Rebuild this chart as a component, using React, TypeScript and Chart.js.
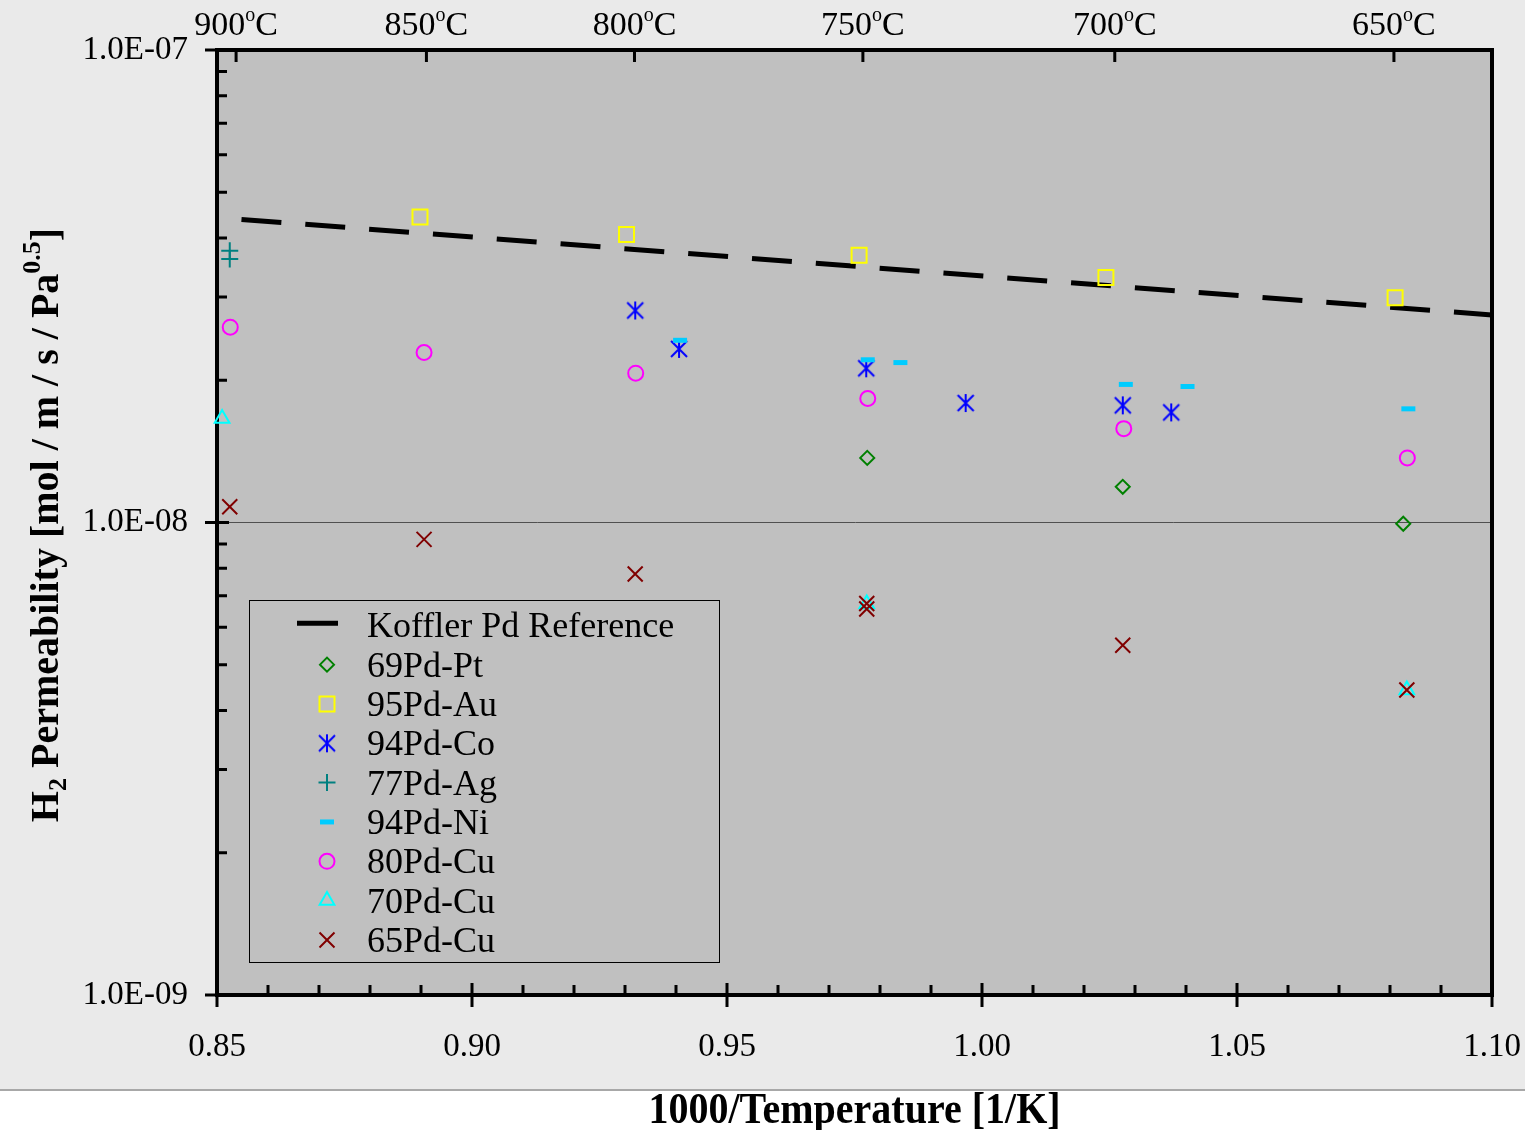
import React, { useEffect, useRef } from 'react';
import { Chart, registerables } from 'chart.js';
import { drawPoint } from 'chart.js/helpers';

Chart.register(...registerables);

const SERIF = '"Liberation Serif", "Times New Roman", serif';

// ---- axis ticks ----
const xTickValues = [0.85, 0.9, 0.95, 1.0, 1.05, 1.1];
const xTickLabels = ['0.85', '0.90', '0.95', '1.00', '1.05', '1.10'];
const yTickValues = [1e-9, 1e-8, 1e-7];
const yTickLabels = ['1.0E-09', '1.0E-08', '1.0E-07'];
const topTempsC = [900, 850, 800, 750, 700, 650];
const topTempLabels = ['900', '850', '800', '750', '700', '650'];
const topAxisMin = 0.8486;
const topAxisMax = 1.1028;

// ---- series (x = 1000/T [1/K], y = permeability) ----
const kofflerX = [0.8548, 1.1];
const kofflerY = [4.38e-8, 2.75e-8];

const ptX = [0.9775, 1.0276, 1.0826];
const ptY = [1.37e-8, 1.19e-8, 9.94e-9];

const auX = [0.8898, 0.9303, 0.9759, 1.0243, 1.081];
const auY = [4.43e-8, 4.07e-8, 3.68e-8, 3.3e-8, 2.99e-8];

const coX = [0.932, 0.9406, 0.9773, 0.9968, 1.0276, 1.0371];
const coY = [2.81e-8, 2.33e-8, 2.12e-8, 1.79e-8, 1.77e-8, 1.71e-8];

const agX = [0.8525, 0.8525];
const agY = [3.76e-8, 3.61e-8];

const niX = [0.9408, 0.9776, 0.984, 1.0282, 1.0403, 1.0836];
const niY = [2.43e-8, 2.21e-8, 2.18e-8, 1.96e-8, 1.94e-8, 1.74e-8];

const cu80X = [0.8526, 0.8906, 0.9321, 0.9776, 1.0278, 1.0834];
const cu80Y = [2.59e-8, 2.29e-8, 2.07e-8, 1.83e-8, 1.58e-8, 1.37e-8];

const cu70X = [0.851, 0.9774, 1.0833];
const cu70Y = [1.66e-8, 6.72e-9, 4.42e-9];

const cu65X = [0.8525, 0.8906, 0.932, 0.9774, 0.9774, 1.0276, 1.0833];
const cu65Y = [1.08e-8, 9.21e-9, 7.78e-9, 6.74e-9, 6.56e-9, 5.5e-9, 4.42e-9];

const seriesLabels = [
  'Koffler Pd Reference',
  '69Pd-Pt',
  '95Pd-Au',
  '94Pd-Co',
  '77Pd-Ag',
  '94Pd-Ni',
  '80Pd-Cu',
  '70Pd-Cu',
  '65Pd-Cu',
];

const toPts = (xs: number[], ys: number[]) => xs.map((x, i) => ({ x, y: ys[i] }));

function makeAsterisk(color: string) {
  const c = document.createElement('canvas');
  c.width = 20;
  c.height = 20;
  const g = c.getContext('2d')!;
  g.strokeStyle = color;
  g.lineWidth = 2;
  g.beginPath();
  g.moveTo(10, 1);
  g.lineTo(10, 19);
  g.moveTo(2, 2);
  g.lineTo(18, 18);
  g.moveTo(18, 2);
  g.lineTo(2, 18);
  g.stroke();
  return c;
}

const decoPlugin = {
  id: 'deco',
  beforeDraw(chart: any) {
    const { ctx, width, height, chartArea: a } = chart;
    ctx.save();
    ctx.fillStyle = '#ffffff';
    ctx.fillRect(0, 0, width, height);
    ctx.fillStyle = '#eaeaea';
    ctx.fillRect(0, 0, width, 1090);
    ctx.fillStyle = '#a8a8a8';
    ctx.fillRect(0, 1089, width, 2);
    ctx.fillStyle = '#c0c0c0';
    ctx.fillRect(a.left, a.top, a.right - a.left, a.bottom - a.top);
    ctx.restore();
  },
  afterDraw(chart: any) {
    const { ctx, chartArea: a } = chart;
    const xs = chart.scales.x;
    const ys = chart.scales.y;
    const xt = chart.scales.x2;
    ctx.save();
    // right frame line
    ctx.strokeStyle = '#000';
    ctx.lineWidth = 4;
    ctx.beginPath();
    ctx.moveTo(a.right, a.top - 2);
    ctx.lineTo(a.right, a.bottom + 2);
    ctx.stroke();

    // tick marks
    ctx.lineWidth = 3;
    ctx.beginPath();
    xTickValues.forEach((v) => {
      const px = xs.getPixelForValue(v);
      ctx.moveTo(px, a.bottom - 12);
      ctx.lineTo(px, a.bottom + 12);
    });
    for (let k = 86; k < 110; k++) {
      if (k % 5 === 0) continue;
      const px = xs.getPixelForValue(k / 100);
      ctx.moveTo(px, a.bottom - 10);
      ctx.lineTo(px, a.bottom);
    }
    yTickValues.forEach((v) => {
      const py = ys.getPixelForValue(v);
      ctx.moveTo(a.left - 12, py);
      ctx.lineTo(a.left + 12, py);
    });
    [1e-9, 1e-8].forEach((dec) => {
      for (let m = 2; m <= 9; m++) {
        const py = ys.getPixelForValue(dec * m);
        ctx.moveTo(a.left, py);
        ctx.lineTo(a.left + 10, py);
      }
    });
    topTempsC.forEach((t) => {
      const px = xt.getPixelForValue(1000 / (t + 273.15));
      ctx.moveTo(px, a.top);
      ctx.lineTo(px, a.top + 12);
    });
    ctx.stroke();

    // top temperature labels
    ctx.fillStyle = '#000';
    ctx.textBaseline = 'alphabetic';
    ctx.textAlign = 'left';
    const big = `34px ${SERIF}`;
    const small = `20px ${SERIF}`;
    topTempsC.forEach((t, i) => {
      const px = xt.getPixelForValue(1000 / (t + 273.15));
      ctx.font = big;
      const w1 = ctx.measureText(topTempLabels[i]).width;
      const w3 = ctx.measureText('C').width;
      ctx.font = small;
      const w2 = ctx.measureText('o').width;
      const start = px - (w1 + w2 + w3) / 2;
      ctx.font = big;
      ctx.fillText(topTempLabels[i], start, 35);
      ctx.font = small;
      ctx.fillText('o', start + w1, 21);
      ctx.font = big;
      ctx.fillText('C', start + w1 + w2, 35);
    });

    // x axis title
    ctx.save();
    ctx.translate((a.left + a.right) / 2, 1123);
    ctx.scale(1, 1.1);
    ctx.font = `bold 40px ${SERIF}`;
    ctx.textAlign = 'center';
    ctx.fillText('1000/Temperature [1/K]', 0, 0);
    ctx.restore();

    // y axis title with sub/superscripts
    ctx.save();
    ctx.translate(58, 525);
    ctx.rotate(-Math.PI / 2);
    const pieces = [
      { t: 'H', f: `bold 40px ${SERIF}`, dy: 0 },
      { t: '2', f: `bold 26px ${SERIF}`, dy: 8 },
      { t: ' Permeability [mol / m / s / Pa', f: `bold 40px ${SERIF}`, dy: 0 },
      { t: '0.5', f: `bold 26px ${SERIF}`, dy: -18 },
      { t: ']', f: `bold 40px ${SERIF}`, dy: 0 },
    ];
    let total = 0;
    const widths = pieces.map((p) => {
      ctx.font = p.f;
      const w = ctx.measureText(p.t).width;
      total += w;
      return w;
    });
    let cx = -total / 2;
    ctx.textAlign = 'left';
    pieces.forEach((p, i) => {
      ctx.font = p.f;
      ctx.fillText(p.t, cx, p.dy);
      cx += widths[i];
    });
    ctx.restore();

    // legend
    ctx.fillStyle = '#c0c0c0';
    ctx.fillRect(249.5, 600.5, 470, 362);
    ctx.strokeStyle = '#000';
    ctx.lineWidth = 1;
    ctx.strokeRect(249.5, 600.5, 470, 362);
    const datasets = chart.data.datasets;
    const base0 = 637.3;
    const pitch = 39.33;
    datasets.forEach((ds: any, i: number) => {
      const base = base0 + i * pitch;
      if (i === 0) {
        ctx.strokeStyle = '#000';
        ctx.lineWidth = 5;
        ctx.beginPath();
        ctx.moveTo(297, base - 14);
        ctx.lineTo(338, base - 14);
        ctx.stroke();
      } else {
        ctx.save();
        ctx.strokeStyle = ds.borderColor;
        ctx.fillStyle = ds.backgroundColor;
        ctx.lineWidth = ds.pointBorderWidth;
        drawPoint(
          ctx,
          { pointStyle: ds.pointStyle, radius: ds.pointRadius, rotation: 0, borderWidth: ds.pointBorderWidth },
          327,
          base - 12
        );
        ctx.restore();
      }
      ctx.fillStyle = '#000';
      ctx.font = `36px ${SERIF}`;
      ctx.textAlign = 'left';
      ctx.textBaseline = 'alphabetic';
      ctx.fillText(ds.label, 367, base);
    });
    ctx.restore();
  },
};

export default function App() {
  const ref = useRef<HTMLCanvasElement>(null);

  useEffect(() => {
    const canvas = ref.current!;
    const star = makeAsterisk('#0000ff');
    const clear = 'rgba(0,0,0,0)';
    const marker = (
      label: string,
      xs: number[],
      ys: number[],
      style: any,
      radius: number,
      color: string,
      bw: number,
      order: number
    ) => ({
      label,
      data: toPts(xs, ys),
      showLine: false,
      pointStyle: style,
      pointRadius: radius,
      pointHoverRadius: radius,
      borderColor: color,
      pointBorderColor: color,
      backgroundColor: clear,
      pointBackgroundColor: clear,
      pointBorderWidth: bw,
      borderWidth: bw,
      order,
      clip: false as any,
    });

    const chart = new Chart(canvas, {
      type: 'scatter',
      data: {
        datasets: [
          {
            label: seriesLabels[0],
            data: toPts(kofflerX, kofflerY),
            showLine: true,
            borderColor: '#000000',
            borderWidth: 5,
            borderDash: [40, 24],
            pointRadius: 0,
            pointHoverRadius: 0,
            fill: false,
            order: 10,
          } as any,
          marker(seriesLabels[1], ptX, ptY, 'rectRot', 7, '#008000', 2, 8),
          marker(seriesLabels[2], auX, auY, 'rect', 10.6, '#ffff00', 2, 7),
          marker(seriesLabels[3], coX, coY, star, 10, '#0000ff', 2, 6),
          marker(seriesLabels[4], agX, agY, 'cross', 8.5, '#008080', 2, 5),
          marker(seriesLabels[5], niX, niY, 'line', 7, '#00ccff', 5, 4),
          marker(seriesLabels[6], cu80X, cu80Y, 'circle', 7.5, '#ff00ff', 2, 3),
          marker(seriesLabels[7], cu70X, cu70Y, 'triangle', 8.5, '#00ffff', 2, 2),
          marker(seriesLabels[8], cu65X, cu65Y, 'crossRot', 10.6, '#800000', 2, 1),
        ],
      },
      options: {
        responsive: false,
        maintainAspectRatio: false,
        devicePixelRatio: 1,
        animation: false,
        events: [],
        layout: { padding: { left: 0, right: 33, top: 0, bottom: 0 } },
        plugins: {
          legend: { display: false },
          tooltip: { enabled: false },
          title: { display: false },
        },
        scales: {
          x: {
            type: 'linear',
            position: 'bottom',
            min: 0.85,
            max: 1.1,
            afterBuildTicks: (s: any) => {
              s.ticks = xTickValues.map((v) => ({ value: v }));
            },
            afterFit: (s: any) => {
              s.height = 135;
              s.paddingLeft = 0;
              s.paddingRight = 0;
            },
            ticks: {
              callback: (_v: any, i: number) => xTickLabels[i],
              font: { family: SERIF, size: 33 },
              color: '#000',
              padding: 33,
              maxRotation: 0,
              autoSkip: false,
            },
            grid: { display: false, drawTicks: false },
            border: { display: true, color: '#000', width: 4 },
          },
          x2: {
            type: 'linear',
            position: 'top',
            min: topAxisMin,
            max: topAxisMax,
            afterBuildTicks: (s: any) => {
              s.ticks = topTempsC.map((t) => ({ value: 1000 / (t + 273.15) }));
            },
            afterFit: (s: any) => {
              s.height = 50;
              s.paddingLeft = 0;
              s.paddingRight = 0;
            },
            ticks: { display: false },
            grid: { display: false, drawTicks: false },
            border: { display: true, color: '#000', width: 4 },
          },
          y: {
            type: 'logarithmic',
            position: 'left',
            min: 1e-9,
            max: 1e-7,
            afterBuildTicks: (s: any) => {
              s.ticks = yTickValues.map((v) => ({ value: v, major: true }));
            },
            afterFit: (s: any) => {
              s.width = 217;
              s.paddingTop = 0;
              s.paddingBottom = 0;
            },
            ticks: {
              callback: (_v: any, i: number) => yTickLabels[i],
              font: { family: SERIF, size: 33 },
              color: '#000',
              padding: 29,
              autoSkip: false,
            },
            grid: { color: '#505050', lineWidth: 1, drawTicks: false },
            border: { display: true, color: '#000', width: 4 },
          },
        },
      } as any,
      plugins: [decoPlugin],
    });

    return () => chart.destroy();
  }, []);

  return (
    <div style={{ position: 'absolute', left: 0, top: 0, width: 1525, height: 1130 }}>
      <canvas ref={ref} width={1525} height={1130} style={{ display: 'block', width: 1525, height: 1130 }} />
    </div>
  );
}
